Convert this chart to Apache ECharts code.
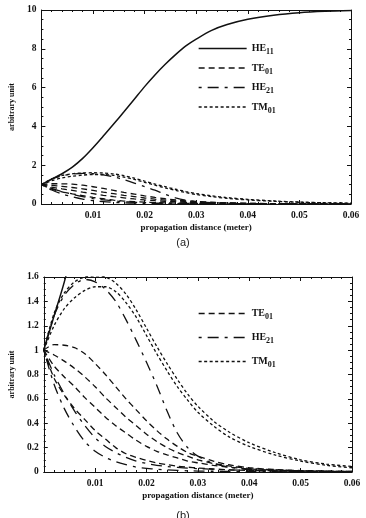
<!DOCTYPE html>
<html>
<head>
<meta charset="utf-8">
<script src="https://cdn.jsdelivr.net/npm/echarts@6/dist/echarts.min.js"></script>
<style>
  html, body { margin: 0; padding: 0; background: #fff; }
  #chart { width: 366px; height: 518px; }
</style>
</head>
<body>
<div id="chart"></div>
<script>
// propagation distance (m), shared by every curve
const distance = [0, 0.002, 0.004, 0.006, 0.008, 0.010, 0.012, 0.014, 0.016, 0.018, 0.020, 0.022,
    0.024, 0.026, 0.028, 0.030, 0.033, 0.036, 0.040, 0.045, 0.050, 0.055, 0.060];

const he11 = [1, 1.28, 1.56, 1.9, 2.35, 2.9, 3.5, 4.12, 4.75, 5.4, 6.05, 6.65, 7.2, 7.7, 8.15, 8.5,
    8.95, 9.25, 9.52, 9.73, 9.86, 9.93, 9.97];

const te01Curves = [
    [1, 1.045, 1.04, 1.02, 0.97, 0.89, 0.80, 0.70, 0.60, 0.51, 0.42, 0.34, 0.27, 0.21, 0.16, 0.13,
        0.09, 0.06, 0.035, 0.02, 0.012, 0.008, 0.005],
    [1, 0.96, 0.91, 0.85, 0.78, 0.7, 0.61, 0.53, 0.45, 0.38, 0.31, 0.25, 0.2, 0.16, 0.13, 0.1,
        0.07, 0.05, 0.03, 0.018, 0.011, 0.007, 0.004],
    [1, 0.87, 0.78, 0.7, 0.61, 0.53, 0.45, 0.38, 0.32, 0.26, 0.21, 0.17, 0.14, 0.115, 0.09, 0.075,
        0.055, 0.04, 0.025, 0.015, 0.01, 0.006, 0.004],
    [1, 0.77, 0.63, 0.52, 0.43, 0.34, 0.27, 0.2, 0.15, 0.12, 0.095, 0.075, 0.06, 0.048, 0.04, 0.033,
        0.025, 0.018, 0.012, 0.008, 0.005, 0.003, 0.002],
];

const he21Curves = [
    [1, 1.28, 1.45, 1.54, 1.58, 1.56, 1.5, 1.4, 1.25, 1.08, 0.9, 0.71, 0.5, 0.32, 0.2, 0.13,
        0.07, 0.04, 0.02, 0.01, 0.005, 0.003, 0.002],
    [1, 0.8, 0.64, 0.5, 0.38, 0.28, 0.21, 0.16, 0.12, 0.09, 0.07, 0.055, 0.045, 0.038, 0.032, 0.028,
        0.022, 0.018, 0.013, 0.009, 0.006, 0.004, 0.003],
    [1, 0.72, 0.52, 0.37, 0.25, 0.17, 0.12, 0.085, 0.06, 0.04, 0.03, 0.022, 0.017, 0.013, 0.01, 0.008,
        0.006, 0.004, 0.003, 0.002, 0.001, 0.001, 0.001],
];

const tm01Curves = [
    [1, 1.3, 1.47, 1.56, 1.6, 1.61, 1.6, 1.55, 1.46, 1.33, 1.18, 1.03, 0.89, 0.76, 0.64, 0.54,
        0.42, 0.33, 0.24, 0.16, 0.1, 0.065, 0.045],
    [1, 1.2, 1.34, 1.43, 1.49, 1.52, 1.52, 1.48, 1.39, 1.27, 1.12, 0.97, 0.83, 0.7, 0.59, 0.49,
        0.38, 0.29, 0.21, 0.14, 0.09, 0.055, 0.035],
];

const legendA = ['HE11', 'TE01', 'HE21', 'TM01'];
const legendB = ['TE01', 'HE21', 'TM01'];
const yTicksA = { min: 0, max: 10, interval: 2 };
const yTicksB = { min: 0, max: 1.6, interval: 0.2 };
const xTicks = { min: 0, max: 0.06, interval: 0.01 };

const SERIF = '"Liberation Serif", "DejaVu Serif", serif';
const INK = '#111';

const dashFor = {
    HE11: 'solid',
    TE01: [6, 4],
    HE21: [3, 6, 11, 6],
    TM01: [3, 2.5],
};

function pairs(ys) {
    return distance.map((x, i) => [x, ys[i]]);
}

function makeLine(name, ys, axisIndex) {
    return {
        type: 'line',
        name: name,
        xAxisIndex: axisIndex,
        yAxisIndex: axisIndex,
        data: pairs(ys),
        symbol: 'none',
        smooth: 0.3,
        clip: true,
        silent: true,
        lineStyle: { color: INK, width: name === 'HE11' ? 1.5 : 1.3, type: dashFor[name] },
        itemStyle: { color: INK },
    };
}

function seriesFor(axisIndex) {
    const out = [makeLine('HE11', he11, axisIndex)];
    te01Curves.forEach((c) => out.push(makeLine('TE01', c, axisIndex)));
    he21Curves.forEach((c) => out.push(makeLine('HE21', c, axisIndex)));
    tm01Curves.forEach((c) => out.push(makeLine('TM01', c, axisIndex)));
    return out;
}

function mainX(gridIndex) {
    return Object.assign({
        type: 'value',
        gridIndex: gridIndex,
        name: 'propagation distance (meter)',
        nameLocation: 'middle',
        nameGap: 19,
        nameTextStyle: { fontFamily: SERIF, fontWeight: 'bold', fontSize: 9, color: INK },
        axisLine: { show: true, onZero: false, lineStyle: { color: INK, width: 1 } },
        axisTick: { show: true, inside: true, length: 4, lineStyle: { color: INK } },
        minorTick: { show: true, splitNumber: 5, length: 2, lineStyle: { color: INK } },
        splitLine: { show: false },
        axisLabel: {
            showMinLabel: false, margin: 7,
            fontFamily: SERIF, fontWeight: 'bold', fontSize: 9.5, color: INK,
        },
    }, xTicks);
}

function mainY(gridIndex, ticks) {
    return Object.assign({
        type: 'value',
        gridIndex: gridIndex,
        name: 'arbitrary unit',
        nameLocation: 'middle',
        nameRotate: 90,
        nameGap: 20,
        nameTextStyle: { fontFamily: SERIF, fontWeight: 'bold', fontSize: 8, color: INK },
        axisLine: { show: true, onZero: false, lineStyle: { color: INK, width: 1 } },
        axisTick: { show: true, inside: true, length: 4, lineStyle: { color: INK } },
        minorTick: { show: true, splitNumber: 4, length: 2, lineStyle: { color: INK } },
        splitLine: { show: false },
        axisLabel: { margin: 5, fontFamily: SERIF, fontWeight: 'bold', fontSize: 9.5, color: INK },
    }, ticks);
}

// frame axes on the top / right, ticks only
function frameX(gridIndex) {
    return Object.assign({
        type: 'value', gridIndex: gridIndex, position: 'top',
        axisLine: { show: true, onZero: false, lineStyle: { color: INK } },
        axisTick: { show: true, inside: true, length: 4, lineStyle: { color: INK } },
        minorTick: { show: true, splitNumber: 5, length: 2, lineStyle: { color: INK } },
        axisLabel: { show: false }, splitLine: { show: false },
    }, xTicks);
}

function frameY(gridIndex, ticks) {
    return Object.assign({
        type: 'value', gridIndex: gridIndex, position: 'right',
        axisLine: { show: true, onZero: false, lineStyle: { color: INK } },
        axisTick: { show: true, inside: true, length: 4, lineStyle: { color: INK } },
        minorTick: { show: true, splitNumber: 4, length: 2, lineStyle: { color: INK } },
        axisLabel: { show: false }, splitLine: { show: false },
    }, ticks);
}

function modeLabel(name) {
    return '{m|' + name.slice(0, 2) + '}{s|' + name.slice(2) + '}';
}

function makeLegend(names, top, gap) {
    return {
        data: names,
        orient: 'vertical',
        left: 193,
        top: top,
        itemWidth: 48,
        itemHeight: 14,
        itemGap: gap,
        selectedMode: false,
        formatter: modeLabel,
        // hide the marker dot, keep only the dashed line
        itemStyle: { opacity: 0, borderWidth: 0 },
        lineStyle: { width: 1.3 },
        textStyle: {
            color: INK,
            rich: {
                m: { fontFamily: SERIF, fontWeight: 'bold', fontSize: 10, color: INK, lineHeight: 14 },
                s: { fontFamily: SERIF, fontWeight: 'bold', fontSize: 8, color: INK, lineHeight: 14, padding: [7, 0, 0, 0] },
            },
        },
    };
}

const chart = echarts.init(document.getElementById('chart'), null, { renderer: 'canvas' });

chart.setOption({
    animation: false,
    backgroundColor: '#fff',
    title: [
        { text: '(a)', left: 'center', top: 232, textStyle: { fontFamily: '"Liberation Sans", Arial, sans-serif', fontWeight: 'normal', fontSize: 11, color: '#222' } },
        { text: '(b)', left: 'center', top: 505, textStyle: { fontFamily: '"Liberation Sans", Arial, sans-serif', fontWeight: 'normal', fontSize: 11, color: '#222' } },
    ],
    legend: [makeLegend(legendA, 36, 4.5), makeLegend(legendB, 301, 9)],
    grid: [
        { left: 36, top: 10, width: 315, height: 194 },
        { left: 37, top: 277, width: 315, height: 195 },
    ],
    xAxis: [mainX(0), mainX(1), frameX(0), frameX(1)],
    yAxis: [mainY(0, yTicksA), mainY(1, yTicksB), frameY(0, yTicksA), frameY(1, yTicksB)],
    series: seriesFor(0).concat(seriesFor(1)),
});
</script>
</body>
</html>
